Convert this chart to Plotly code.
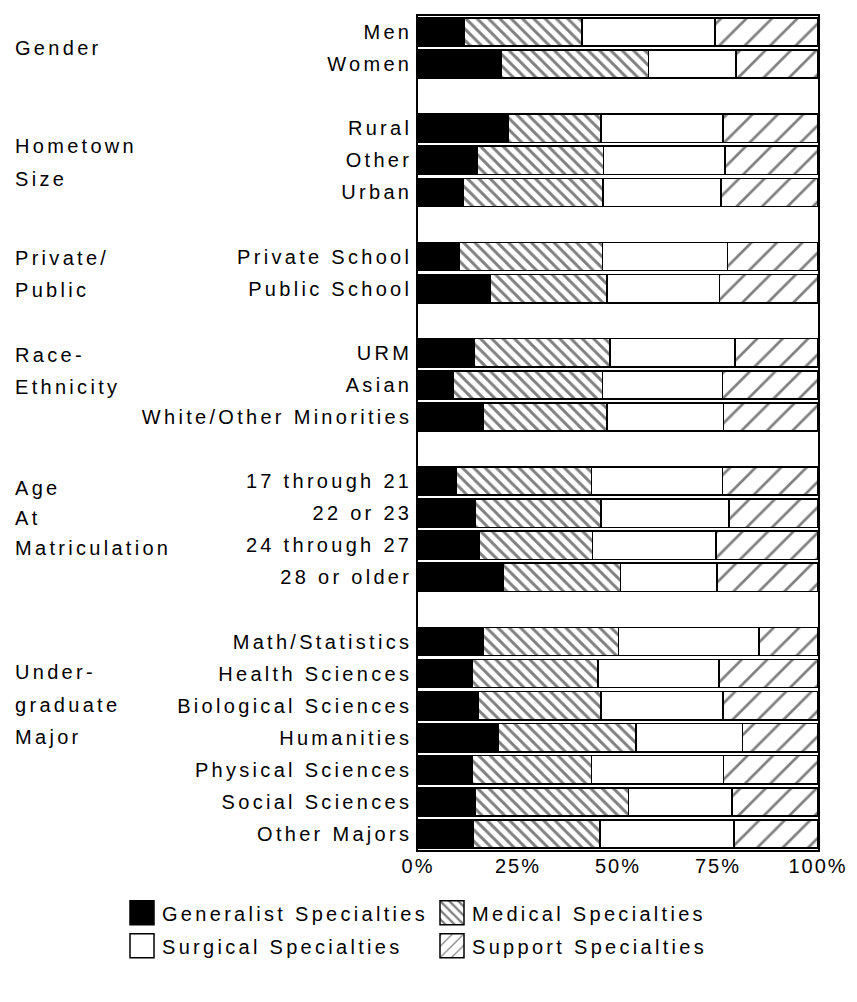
import plotly.graph_objects as go

# rows, top to bottom
categories = [
    "Men", "Women",
    "Rural", "Other", "Urban",
    "Private School", "Public School",
    "URM", "Asian", "White/Other Minorities",
    "17 through 21", "22 or 23", "24 through 27", "28 or older",
    "Math/Statistics", "Health Sciences", "Biological Sciences", "Humanities",
    "Physical Sciences", "Social Sciences", "Other Majors",
]
group_sizes = [2, 3, 2, 3, 4, 7]
group_lines = [
    ["Gender"],
    ["Hometown", "Size"],
    ["Private/", "Public"],
    ["Race-", "Ethnicity"],
    ["Age", "At", "Matriculation"],
    ["Under-", "graduate", "Major"],
]

# percent of graduates by specialty choice
generalist = [11.5, 20.8, 22.6, 14.8, 11.4, 10.3, 18.0, 14.1, 8.9, 16.4,
              9.6, 14.4, 15.3, 21.2, 16.2, 13.5, 15.0, 20.0, 13.5, 14.3, 13.9]
medical = [29.5, 36.8, 23.1, 31.6, 34.9, 35.8, 29.3, 33.9, 37.2, 30.9,
           33.8, 31.3, 28.3, 29.4, 33.9, 31.5, 30.7, 34.5, 29.9, 38.3, 31.6]
surgical = [33.2, 21.9, 30.5, 30.3, 29.5, 31.3, 28.1, 31.3, 30.0, 29.1,
            32.7, 32.1, 30.9, 24.1, 35.2, 30.2, 30.5, 26.6, 33.0, 25.9, 33.5]
support = [25.8, 20.5, 23.8, 23.3, 24.2, 22.6, 24.6, 20.7, 23.9, 23.6,
           23.9, 22.2, 25.5, 25.3, 14.7, 24.8, 23.8, 18.9, 23.6, 21.5, 21.0]

x_ticks = [0, 25, 50, 75, 100]
x_labels = ["0%", "25%", "50%", "75%", "100%"]

FONT = "Liberation Sans, Arial, sans-serif"
W, H = 857, 1002
L, R, T, B = 410, 47, 6, 160
PW, PH = W - L - R, H - T - B


def spaced(s, ls=3.3):
    return '<span style="letter-spacing:%spx">%s</span>' % (ls, s)


# row positions with a blank row between groups
rows, group_first = [], []
r = 0
for n in group_sizes:
    group_first.append(r)
    rows.extend(range(r, r + n))
    r += n + 1
last_row = rows[-1]

# name, values, colour, hatch, hatch size, solidity, legend
series = [
    ("Generalist Specialties", generalist, "black", "", 8, 0.2, "legend"),
    ("Medical Specialties", medical, "white", "\\", 8, 0.36, "legend"),
    ("Surgical Specialties", surgical, "white", "", 8, 0.2, "legend2"),
    ("Support Specialties", support, "white", "/", 18, 0.15, "legend2"),
]

fig = go.Figure()
for name, vals, color, shape, size, sol, leg in series:
    fig.add_trace(go.Bar(
        y=rows, x=vals, orientation="h",
        name=spaced(name), legend=leg,
        marker=dict(
            color=color,
            line=dict(color="black", width=1.5),
            pattern=dict(shape=shape, fgcolor="black", bgcolor=color,
                         size=size, solidity=sol, fillmode="overlay"),
        ),
        hoverinfo="skip",
    ))

# group labels, one annotation per line
label_offsets = [
    [0.5],
    [0.55, 1.58],
    [0.05, 1.05],
    [0.07, 1.07],
    [0.22, 1.16, 2.1],
    [0.95, 1.97, 2.97],
]
for first, lines, offs in zip(group_first, group_lines, label_offsets):
    for line, off in zip(lines, offs):
        fig.add_annotation(
            text=spaced(line), xref="paper", yref="y",
            x=(5 - L) / PW, y=first + off,
            xanchor="left", yanchor="middle", showarrow=False,
            font=dict(family=FONT, size=20, color="black"),
        )

leg_common = dict(
    orientation="h", traceorder="normal",
    x=(114 - L) / PW, xanchor="left", yanchor="middle",
    entrywidth=265, entrywidthmode="pixels", itemwidth=30,
    font=dict(family=FONT, size=20, color="black"),
    itemclick=False, itemdoubleclick=False,
)

fig.update_layout(
    width=W, height=H,
    margin=dict(l=L, r=R, t=T, b=B),
    barmode="stack", bargap=0.12,
    plot_bgcolor="white", paper_bgcolor="white",
    font=dict(family=FONT, size=20, color="black"),
    showlegend=True,
    legend=dict(y=-(905 - (H - B)) / PH, **leg_common),
    legend2=dict(y=-(938 - (H - B)) / PH, **leg_common),
    xaxis=dict(
        range=[0, 100], tickvals=x_ticks,
        ticktext=[spaced(t, 2) for t in x_labels],
        showgrid=False, zeroline=False, ticks="",
        showline=True, mirror=True, linecolor="black", linewidth=1.5,
        ticklabelstandoff=-3, fixedrange=True,
    ),
    yaxis=dict(
        range=[last_row + 0.5, -0.5], tickvals=rows,
        ticktext=[spaced(c) for c in categories],
        showgrid=False, zeroline=False, ticks="",
        showline=True, mirror=True, linecolor="black", linewidth=1.5,
        fixedrange=True,
    ),
)

# enlarge legend swatches to the boxed keys of the original
post = ("document.querySelectorAll('.legendpoints path').forEach(function(p){"
        "p.setAttribute('d','M12,12H-12V-12H12Z');});")
fig.write_html("out.html", post_script=post, config={"displayModeBar": False})
